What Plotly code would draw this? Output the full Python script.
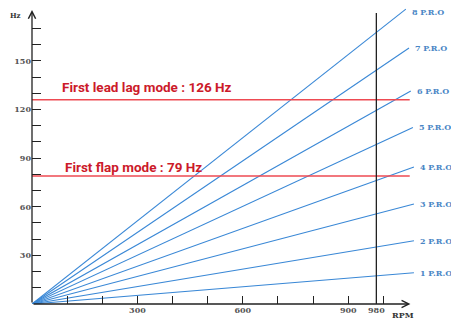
import plotly.graph_objects as go

# ---- data ----
orders = [1, 2, 3, 4, 5, 6, 7, 8]
order_labels = [f"{n} P.R.O" for n in orders]
end_rpm = [1087, 1087, 1087, 1087, 1084, 1078, 1073, 1064]
end_hz = [19.3, 39.0, 61.7, 84.5, 109.0, 131.5, 158.0, 182.0]

mode_names = ["First lead lag mode : 126 Hz", "First flap mode : 79 Hz"]
mode_hz = [126, 79]
mode_text_pos = [(80, 134), (88, 84.5)]  # (rpm, hz) for text
mode_rpm_end = 1075

op_rpm = 980
op_top_hz = 179.6

x_tickvals = [100, 200, 300, 400, 500, 600, 700, 800, 900, 980, 1000]
x_ticktext = ["", "", "300", "", "", "600", "", "", "900", "980", ""]
y_tickvals = list(range(10, 180, 10))
y_ticktext = [str(v) if v % 30 == 0 else "" for v in y_tickvals]

x_max, y_max = 1090, 182.7
x_arrow_end, y_arrow_end = 1077, 181.5

BLUE = "#3a88d6"
LABEL_BLUE = "#4a86c5"
RED_LINE = "#ee4a52"
RED_TEXT = "#cc1a2a"
SERIF = "DejaVu Serif"

fig = go.Figure()

for n, xr, yh in zip(orders, end_rpm, end_hz):
    fig.add_trace(go.Scatter(x=[0, xr], y=[0, yh], mode="lines",
                             line=dict(color=BLUE, width=1.1),
                             showlegend=False, hoverinfo="skip", cliponaxis=False))

for hz in mode_hz:
    fig.add_trace(go.Scatter(x=[0, mode_rpm_end], y=[hz, hz], mode="lines",
                             line=dict(color=RED_LINE, width=1.5),
                             showlegend=False, hoverinfo="skip"))

fig.add_trace(go.Scatter(x=[op_rpm, op_rpm], y=[0, op_top_hz], mode="lines",
                         line=dict(color="#222222", width=1.3),
                         showlegend=False, hoverinfo="skip", cliponaxis=False))

annotations = []
# axis arrows
annotations.append(dict(x=x_arrow_end, y=0, ax=0, ay=0, xref="x", yref="y",
                        axref="x", ayref="y", text="", showarrow=True,
                        arrowhead=5, arrowsize=1.1, arrowwidth=1.3,
                        arrowcolor="#222222", standoff=0, startstandoff=0))
annotations.append(dict(x=0, y=y_arrow_end, ax=0, ay=0, xref="x", yref="y",
                        axref="x", ayref="y", text="", showarrow=True,
                        arrowhead=5, arrowsize=1.1, arrowwidth=1.3,
                        arrowcolor="#222222", standoff=0, startstandoff=0))
# order labels
for lab, xr, yh in zip(order_labels, end_rpm, end_hz):
    annotations.append(dict(x=xr, y=yh, xref="x", yref="y", text=lab,
                            showarrow=False, xanchor="left", yanchor="middle",
                            xshift=4, yshift=(-3 if yh > y_max - 5 else 0),
                            font=dict(family=SERIF, size=8, color=LABEL_BLUE,
                                      weight="bold")))
# mode texts
for name, (tx, ty) in zip(mode_names, mode_text_pos):
    annotations.append(dict(x=tx, y=ty, xref="x", yref="y", text=name,
                            showarrow=False, xanchor="left", yanchor="middle",
                            font=dict(family="Roboto", size=13.5, color=RED_TEXT,
                                      weight="bold")))
# axis titles (screen pixel positions)
annotations.append(dict(x=15, y=16, xref="paper", yref="paper", text="Hz",
                        showarrow=False, xanchor="center", yanchor="middle",
                        font=dict(family=SERIF, size=7, color="#333333", weight="bold")))
annotations.append(dict(x=403, y=315, xref="paper", yref="paper", text="RPM",
                        showarrow=False, xanchor="center", yanchor="middle",
                        font=dict(family=SERIF, size=8, color="#333333", weight="bold")))

# page body has an 8px margin: figure is laid out in screen pixels minus 8
OFF = 8
W, H = 459 - OFF, 322 - OFF
L, R, T, B = 24, 44, 0, 18
pw, ph = W - L - R, H - T - B
for a in annotations:
    if a.get("xref") == "paper":
        a["x"] = (a["x"] - OFF - L) / pw
        a["y"] = (H - B - (a["y"] - OFF)) / ph

fig.update_layout(
    width=W, height=H,
    margin=dict(l=L, r=R, t=T, b=B, pad=0, autoexpand=False),
    paper_bgcolor="white", plot_bgcolor="white",
    annotations=annotations,
    xaxis=dict(range=[0, x_max], showgrid=False, zeroline=False, showline=False,
               ticks="inside", ticklen=8, tickwidth=1.3, tickcolor="#222222",
               tickvals=x_tickvals, ticktext=x_ticktext, automargin=False,
               tickfont=dict(family=SERIF, size=8, color="#555555", weight="bold")),
    yaxis=dict(range=[0, y_max], showgrid=False, zeroline=False, showline=False,
               ticks="inside", ticklen=9, tickwidth=1.3, tickcolor="#222222",
               tickvals=y_tickvals, ticktext=y_ticktext, automargin=False,
               tickfont=dict(family=SERIF, size=8, color="#555555", weight="bold")),
)

fig.write_html("out.html")
